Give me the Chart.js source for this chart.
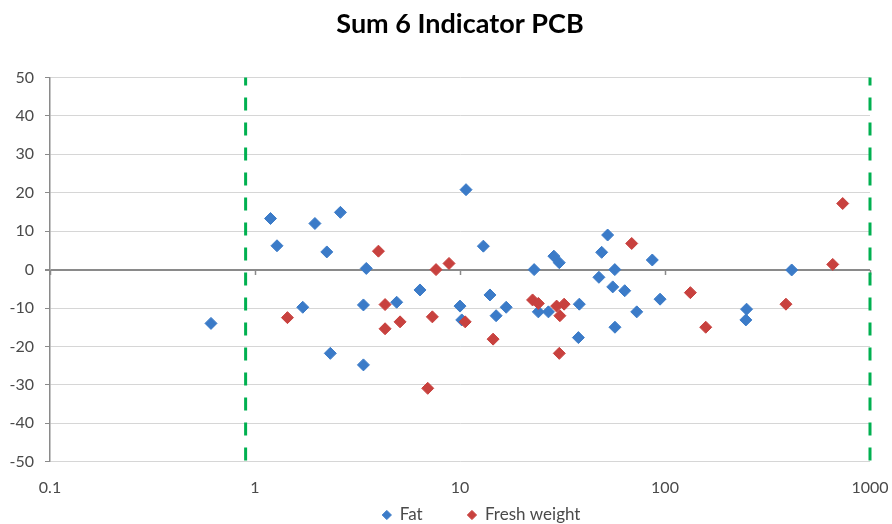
<!DOCTYPE html>
<html>
<head>
<meta charset="utf-8">
<script src="https://cdn.jsdelivr.net/npm/chart.js@4.4.1/dist/chart.umd.min.js"></script>
<style>
  html, body { margin: 0; padding: 0; background: #fff; }
  #chart { display: block; }
</style>
</head>
<body>
<canvas id="chart" width="892" height="524"></canvas>
<script>
const chartTitle = 'Sum 6 Indicator PCB';
const seriesNames = ['Fat', 'Fresh weight'];

const xTickValues = [0.1, 1, 10, 100, 1000];
const yMin = -50;
const yMax = 50;
const yStep = 10;
const limitX = [0.9, 1000];

const fatX = [0.61, 1.19, 1.28, 1.71, 1.96, 2.24, 2.33, 2.61, 3.38, 3.38,
  3.49, 4.91, 6.38, 10.0, 10.2, 10.7, 13.0, 14.0, 15.0, 16.8,
  23.0, 24.1, 27.0, 28.7, 30.5, 37.8, 38.2, 47.6, 49.1, 52.5,
  55.6, 56.9, 57.0, 63.6, 72.8, 86.7, 94.6, 248, 250, 415];
const fatY = [-14.0, 13.3, 6.2, -9.8, 12.0, 4.6, -21.8, 14.9, -9.2, -24.8,
  0.3, -8.5, -5.3, -9.5, -13.1, 20.8, 6.1, -6.6, -12.0, -9.8,
  0.0, -11.0, -11.0, 3.5, 1.8, -17.7, -9.0, -2.0, 4.5, 9.0,
  -4.5, 0.0, -15.0, -5.5, -11.0, 2.5, -7.7, -13.1, -10.3, -0.1];

const freshX = [1.44, 4.0, 4.31, 4.31, 5.1, 6.96, 7.33, 7.64, 8.84, 10.6,
  14.5, 22.6, 24.1, 29.6, 30.5, 30.7, 32.2, 68.8, 133, 158,
  389, 658, 736];
const freshY = [-12.5, 4.8, -9.1, -15.4, -13.6, -30.9, -12.3, 0.0, 1.6, -13.6,
  -18.1, -7.9, -8.8, -9.5, -21.8, -12.0, -9.0, 6.8, -6.0, -15.0,
  -9.0, 1.35, 17.2];

const fatPoints = fatX.map((x, i) => ({ x: x, y: fatY[i] }));
const freshPoints = freshX.map((x, i) => ({ x: x, y: freshY[i] }));

const FONT = 'Lato, "Open Sans", sans-serif';
const AXIS_GREY = '#8a8a8a';
const TEXT_GREY = '#4a4a4a';

function limitLine(x) {
  return {
    label: 'limit',
    data: [{ x: x, y: yMax }, { x: x, y: yMin }],
    showLine: true,
    borderColor: '#00b050',
    borderWidth: 3,
    borderDash: [13, 12],
    borderDashOffset: 5,
    pointRadius: 0,
    clip: false,
    order: 2,
  };
}

const decadeTicks = (scale) => {
  scale.ticks = xTickValues.map((v) => ({ value: v }));
};

// legend: the two series, plus a blank slot (first limit line) in front
// that only pushes the visible entries right, as in the original
function legendLabels(chart) {
  const items = Chart.defaults.plugins.legend.labels.generateLabels(chart);
  return items
    .filter((it) => it.datasetIndex !== 3)
    .map((it) => {
      if (it.datasetIndex === 2) {
        it.text = '       ';
        it.fillStyle = 'rgba(0,0,0,0)';
        it.strokeStyle = 'rgba(0,0,0,0)';
        it.lineWidth = 0;
        it.sortKey = -1;
      } else {
        it.sortKey = it.datasetIndex;
      }
      return it;
    });
}

const config = {
  type: 'scatter',
  data: {
    datasets: [
      {
        label: seriesNames[0],
        data: fatPoints,
        pointStyle: 'rectRot',
        pointRadius: 6,
        pointBorderWidth: 1,
        backgroundColor: '#3b7bc8',
        borderColor: '#3b7bc8',
        order: 1,
      },
      {
        label: seriesNames[1],
        data: freshPoints,
        pointStyle: 'rectRot',
        pointRadius: 6,
        pointBorderWidth: 1,
        backgroundColor: '#c8413e',
        borderColor: '#c8413e',
        order: 0,
      },
      limitLine(limitX[0]),
      limitLine(limitX[1]),
    ],
  },
  options: {
    responsive: false,
    animation: false,
    devicePixelRatio: 1,
    events: [],
    layout: { padding: { left: 0, right: 22, top: 0, bottom: 0 } },
    scales: {
      x: {
        type: 'logarithmic',
        display: false,
        min: xTickValues[0],
        max: xTickValues[xTickValues.length - 1],
      },
      // axis line sits on y = 0 like the original; its labels hang down to the bottom
      x2: {
        type: 'logarithmic',
        position: { y: 0 },
        min: xTickValues[0],
        max: xTickValues[xTickValues.length - 1],
        afterBuildTicks: decadeTicks,
        afterFit: (s) => { s.paddingLeft = 0; s.paddingRight = 0; },
        grid: {
          drawOnChartArea: false,
          drawTicks: true,
          tickLength: 5,
          tickWidth: 1.5,
          tickColor: AXIS_GREY,
        },
        border: { display: false },
        ticks: {
          padding: 204,
          color: TEXT_GREY,
          font: { family: FONT, size: 16 },
          maxRotation: 0,
          autoSkip: false,
          callback: (v) => String(v),
        },
      },
      y: {
        min: yMin,
        max: yMax,
        afterFit: (s) => { s.width = 50; },
        border: { color: AXIS_GREY, width: 1.5 },
        grid: {
          color: (ctx) => (ctx.tick && ctx.tick.value === 0 ? AXIS_GREY : '#d6d6d6'),
          lineWidth: (ctx) => (ctx.tick && ctx.tick.value === 0 ? 2 : 1),
          tickColor: AXIS_GREY,
          tickLength: 5,
        },
        ticks: {
          stepSize: yStep,
          padding: 11,
          color: TEXT_GREY,
          font: { family: FONT, size: 16 },
        },
      },
    },
    plugins: {
      title: {
        display: true,
        fullSize: false,
        text: chartTitle,
        color: '#000',
        font: { family: FONT, size: 27, weight: 'bold' },
        padding: { top: 8.5, bottom: 36.6 },
      },
      legend: {
        position: 'bottom',
        maxHeight: 62.3,
        labels: {
          usePointStyle: true,
          pointStyle: 'rectRot',
          boxWidth: 9,
          boxHeight: 6.5,
          padding: 44.8,
          color: TEXT_GREY,
          font: { family: FONT, size: 17 },
          generateLabels: legendLabels,
          sort: (a, b) => a.sortKey - b.sortKey,
        },
      },
      tooltip: { enabled: false },
    },
  },
};

new Chart(document.getElementById('chart'), config);
</script>
</body>
</html>
